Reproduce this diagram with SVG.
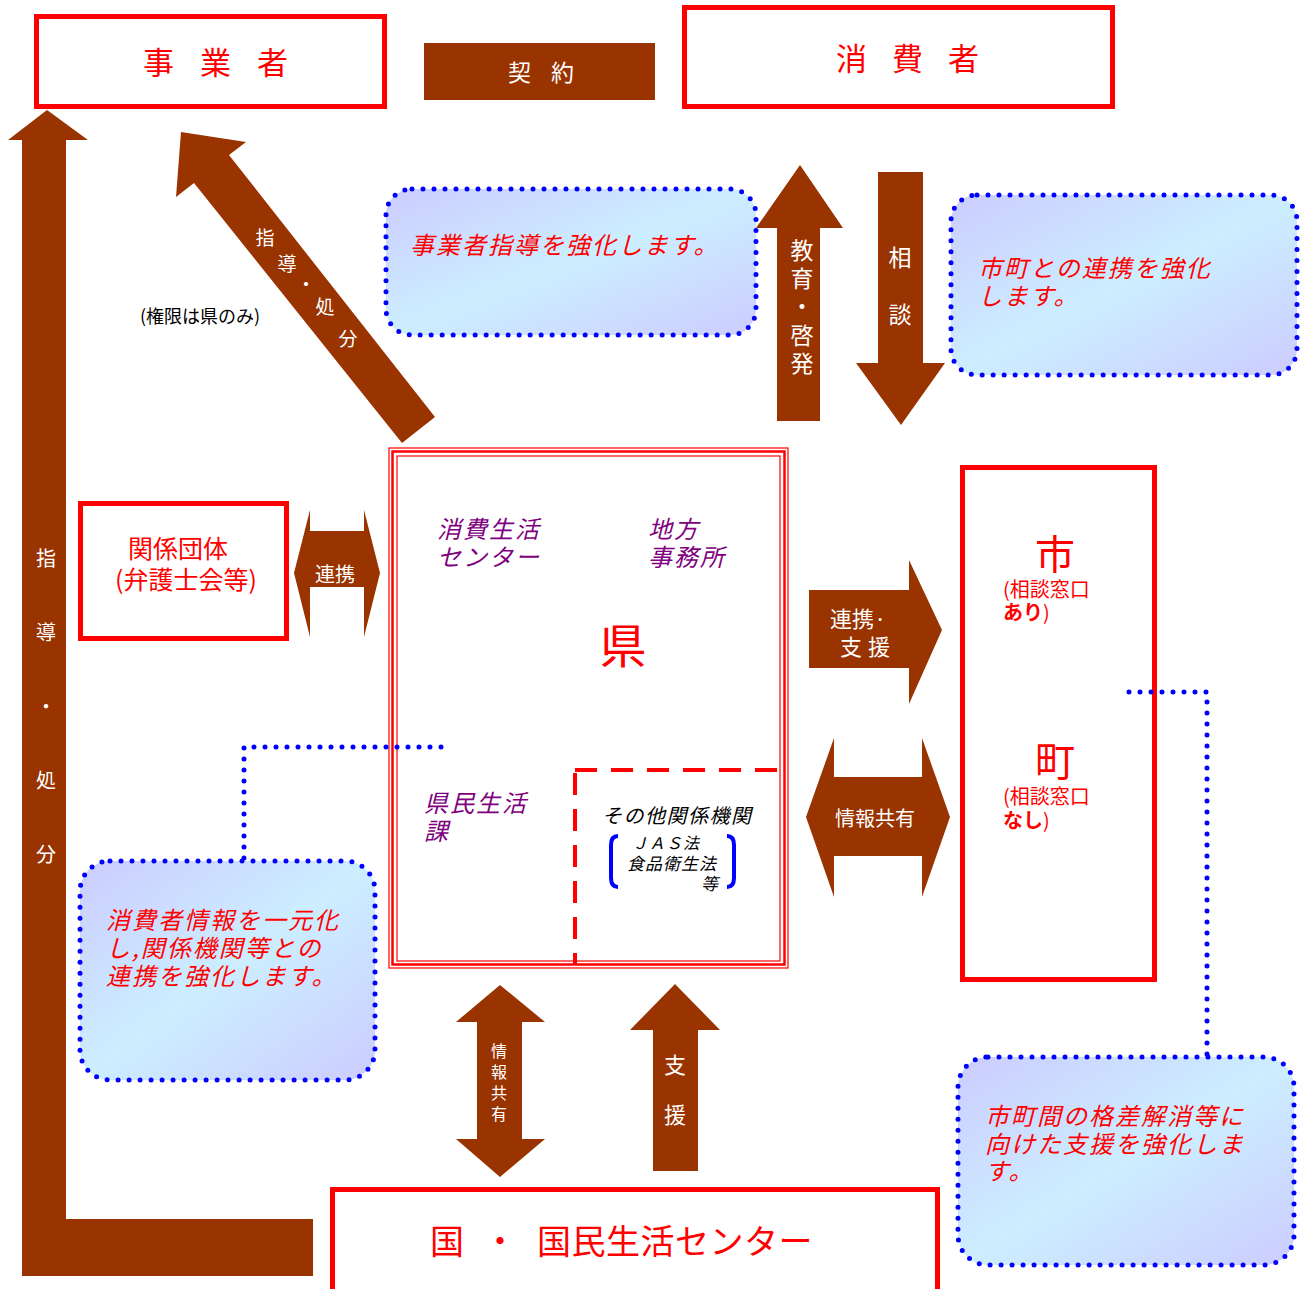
<svg xmlns="http://www.w3.org/2000/svg" width="1306" height="1289" viewBox="0 0 1306 1289">
<defs>
<linearGradient id="cg" x1="0" y1="0" x2="1" y2="1">
<stop offset="0" stop-color="#ccccff"/>
<stop offset="0.5" stop-color="#cceeff"/>
<stop offset="1" stop-color="#ccccff"/>
</linearGradient>
</defs>
<style>
text{font-family:"Noto Sans CJK JP","Noto Sans",sans-serif;}
.box{fill:#fff;stroke:#ff0000;stroke-width:5;}
.arr{fill:#993300;}
.w{fill:#fff;}
.red{fill:#ff0000;}
.call{fill:url(#cg);stroke:#0000ff;stroke-width:5;stroke-dasharray:0 11;stroke-linecap:round;}
.dot{fill:none;stroke:#0000ff;stroke-width:5;stroke-dasharray:0 11;stroke-linecap:round;}
.it{font-style:italic;}
.pu{fill:#800080;font-style:italic;font-size:24px;letter-spacing:2px;}
.ct{fill:#ff0000;font-style:italic;font-size:24px;letter-spacing:2px;}
.c{text-anchor:middle;dominant-baseline:central;}
</style>
<rect width="1306" height="1289" fill="#fff"/>

<g id="jigyosha">
<rect class="box" x="36.5" y="16.5" width="348" height="90"/>
<text class="red" x="143" y="74" font-size="31" letter-spacing="26">事業者</text>
</g>

<g id="keiyaku">
<rect class="arr" x="424" y="43" width="231" height="57"/>
<text class="w" x="508" y="81" font-size="23" letter-spacing="20">契約</text>
</g>

<g id="shohisha">
<rect class="box" x="684.5" y="7.5" width="428" height="99"/>
<text class="red" x="836" y="70" font-size="31" letter-spacing="25">消費者</text>
</g>

<g id="callout1">
<rect class="call" x="386" y="189" width="370" height="146" rx="26"/>
<text class="ct" x="410" y="254" letter-spacing="1">事業者指導を強化します。</text>
</g>

<g id="callout2">
<rect class="call" x="951" y="195" width="346" height="180" rx="26"/>
<text class="ct" x="978" y="277" letter-spacing="1.5">市町との連携を強化</text>
<text class="ct" x="978" y="305" letter-spacing="1.5">します。</text>
</g>

<g id="kankei">
<rect class="box" x="80.5" y="503.5" width="206" height="135"/>
<text class="red" x="178" y="558" font-size="25" text-anchor="middle">関係団体</text>
<text class="red" x="186" y="589" font-size="25" text-anchor="middle">(弁護士会等)</text>
</g>

<g id="ken">
<rect x="389" y="448" width="399" height="520" fill="#fff" stroke="#ff0000" stroke-width="1.2"/>
<rect x="392.5" y="451.5" width="392" height="513" fill="none" stroke="#ff0000" stroke-width="2.5"/>
<rect x="397" y="456" width="383" height="505" fill="none" stroke="#ff0000" stroke-width="1.2"/>
<path d="M575,770 L783,770 M575,773 L575,965" fill="none" stroke="#ff0000" stroke-width="4" stroke-dasharray="22,14"/>
<text class="pu" x="437" y="538">消費生活</text>
<text class="pu" x="437" y="566">センター</text>
<text class="pu" x="648" y="538">地方</text>
<text class="pu" x="648" y="566">事務所</text>
<text class="red" x="623" y="663" font-size="47" text-anchor="middle">県</text>
<text class="pu" x="424" y="812">県民生活</text>
<text class="pu" x="424" y="840">課</text>
<text class="it" x="602" y="823" font-size="20" letter-spacing="1.5" fill="#000">その他関係機関</text>
<path d="M618,836 Q611,836 611,845 L611,878 Q611,887 618,887" fill="none" stroke="#0000ff" stroke-width="4"/>
<path d="M727,836 Q734,836 734,845 L734,878 Q734,887 727,887" fill="none" stroke="#0000ff" stroke-width="4"/>
<text class="it" x="632" y="849" font-size="16" fill="#000" letter-spacing="1">ＪＡＳ法</text>
<text class="it" x="627" y="870" font-size="17" fill="#000" letter-spacing="1">食品衛生法</text>
<text class="it" x="701" y="890" font-size="17" fill="#000">等</text>
</g>

<g id="shicho">
<rect class="box" x="962.5" y="467.5" width="192" height="512"/>
<text class="red" x="1055" y="569" font-size="40" text-anchor="middle">市</text>
<text class="red" x="1003" y="597" font-size="20">(相談窓口</text>
<text class="red" x="1003" y="620" font-size="20"><tspan font-weight="bold">あり</tspan>)</text>
<text class="red" x="1055" y="776" font-size="40" text-anchor="middle">町</text>
<text class="red" x="1003" y="804" font-size="20">(相談窓口</text>
<text class="red" x="1003" y="828" font-size="20"><tspan font-weight="bold">なし</tspan>)</text>
</g>

<g id="callout3">
<rect class="call" x="80" y="861" width="295" height="219" rx="30"/>
<text class="ct" x="106" y="929">消費者情報を一元化</text>
<text class="ct" x="106" y="957">し,関係機関等との</text>
<text class="ct" x="106" y="985">連携を強化します。</text>
</g>

<g id="callout4">
<rect class="call" x="958" y="1057" width="336" height="208" rx="30"/>
<text class="ct" x="985" y="1125">市町間の格差解消等に</text>
<text class="ct" x="985" y="1153">向けた支援を強化しま</text>
<text class="ct" x="985" y="1180">す。</text>
</g>

<g id="kuni">
<rect class="box" x="332.5" y="1189.5" width="605" height="104"/>
<text class="red" x="430" y="1254" font-size="34">国</text>
<text class="red" x="500" y="1254" font-size="34" text-anchor="middle">・</text>
<text class="red" x="537" y="1254" font-size="34" letter-spacing="0.5">国民生活センター</text>
</g>

<g id="connectors">
<path class="arr" d="M47,110 L88,140 L66,140 L66,1219 L313,1219 L313,1276 L22,1276 L22,140 L8,140 Z"/>
<path class="arr" d="M181,132 L246,142 L229,155 L435,417 L402,443 L194,183 L176,197 Z"/>
<path class="arr" d="M800,165 L843,228 L820,228 L820,421 L777,421 L777,228 L756,228 Z"/>
<path class="arr" d="M878,172 L923,172 L923,363 L945,363 L901,425 L856,363 L878,363 Z"/>
<path class="arr" d="M294,573 L310,510 L310,531 L364,531 L364,510 L380,573 L364,637 L364,587 L310,587 L310,637 Z"/>
<path class="arr" d="M809,590 L909,590 L909,560 L942,630 L909,704 L909,668 L809,668 Z"/>
<path class="arr" d="M806,817 L834,738 L834,777 L922,777 L922,738 L950,817 L922,897 L922,856 L834,856 L834,897 Z"/>
<path class="arr" d="M500,985 L545,1022 L522,1022 L522,1139 L545,1139 L500,1177 L456,1139 L477,1139 L477,1022 L456,1022 Z"/>
<path class="arr" d="M675,984 L720,1030 L698,1030 L698,1171 L653,1171 L653,1030 L630,1030 Z"/>
<path class="dot" d="M244,858 L244,747 L446,747"/>
<path class="dot" d="M1207,1054 L1207,692 L1127,692"/>
<g class="w" font-size="20">
<text class="c" x="46" y="557">指</text>
<text class="c" x="46" y="631">導</text>
<text class="c" x="46" y="705">・</text>
<text class="c" x="46" y="779">処</text>
<text class="c" x="46" y="853">分</text>
</g>
<g class="w" font-size="19">
<text class="c" x="265" y="236">指</text>
<text class="c" x="287" y="262">導</text>
<text class="c" x="306" y="283">・</text>
<text class="c" x="325" y="305">処</text>
<text class="c" x="348" y="337">分</text>
</g>
<g class="w" font-size="23">
<text class="c" x="802" y="249">教</text>
<text class="c" x="802" y="277">育</text>
<text class="c" x="802" y="305">・</text>
<text class="c" x="802" y="334">啓</text>
<text class="c" x="802" y="362">発</text>
<text class="c" x="900" y="256">相</text>
<text class="c" x="900" y="313">談</text>
</g>
<text class="w c" x="335" y="573" font-size="20">連携</text>
<text class="w" x="830" y="627" font-size="22">連携·</text>
<text class="w" x="840" y="655" font-size="22" letter-spacing="6">支援</text>
<text class="w c" x="875" y="817" font-size="20">情報共有</text>
<g class="w" font-size="16">
<text class="c" x="499" y="1050">情</text>
<text class="c" x="499" y="1071">報</text>
<text class="c" x="499" y="1092">共</text>
<text class="c" x="499" y="1113">有</text>
</g>
<text class="w c" x="675" y="1063" font-size="22">支</text>
<text class="w c" x="675" y="1113" font-size="22">援</text>
<text x="200" y="323" font-size="18" text-anchor="middle" fill="#000">(権限は県のみ)</text>
</g>
</svg>
